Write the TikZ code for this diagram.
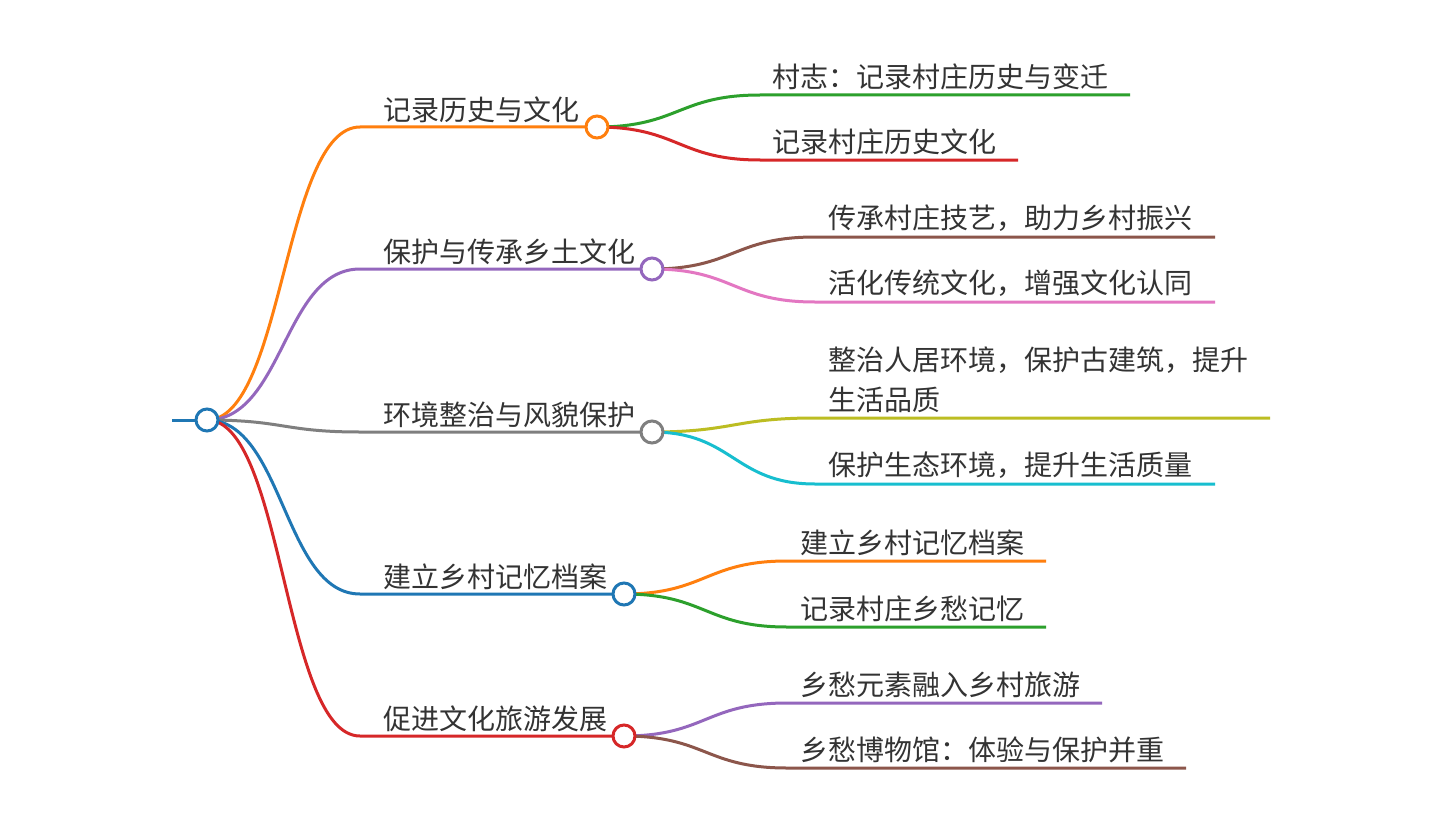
\documentclass[tikz,border=0pt]{standalone}
\usepackage{fontspec}
\newfontfamily\cjk{Noto Sans CJK SC}
\definecolor{cblue}{HTML}{1F77B4}
\definecolor{corange}{HTML}{FF7F0E}
\definecolor{cgreen}{HTML}{2CA02C}
\definecolor{cred}{HTML}{D62728}
\definecolor{cpurple}{HTML}{9467BD}
\definecolor{cbrown}{HTML}{8C564B}
\definecolor{cpink}{HTML}{E377C2}
\definecolor{cgray}{HTML}{7F7F7F}
\definecolor{colive}{HTML}{BCBD22}
\definecolor{ccyan}{HTML}{17BECF}
\definecolor{txt}{HTML}{333333}
\begin{document}
\begin{tikzpicture}[x=1pt,y=-1pt,
  link/.style={line width=3pt},
  bend1/.style={out=0,in=180,out distance=76.5pt,in distance=76.5pt},
  bend2/.style={out=0,in=180,out distance=81.5pt,in distance=81.5pt},
  dot/.style={circle,draw,fill=white,line width=3pt,minimum size=22pt,inner sep=0pt},
  lbl/.style={anchor=west,inner sep=0pt,text=txt,align=left,font=\cjk\fontsize{28}{40}\selectfont}]
\useasboundingbox (0,0) rectangle (1440,832);
\fill[white] (0,0) rectangle (1440,832);

% root
\coordinate (n0) at (207,420);
\coordinate (lt) at (172,420);
\draw[link,cblue] (lt) -- (n0);

% level-1 points
\coordinate (a1) at (360,127);  \coordinate (n1) at (597,127);
\coordinate (a2) at (360,269);  \coordinate (n2) at (652,269);
\coordinate (a3) at (360,432);  \coordinate (n3) at (652,432);
\coordinate (a4) at (360,594);  \coordinate (n4) at (624,594);
\coordinate (a5) at (360,736);  \coordinate (n5) at (624,736);

\draw[link,corange] (n0) to[bend1] (a1) -- (n1);
\draw[link,cpurple] (n0) to[bend1] (a2) -- (n2);
\draw[link,cgray]   (n0) to[bend1] (a3) -- (n3);
\draw[link,cblue]   (n0) to[bend1] (a4) -- (n4);
\draw[link,cred]    (n0) to[bend1] (a5) -- (n5);

% level-2 points
\coordinate (b11) at (760,95);  \coordinate (e11) at (1130,95);
\coordinate (b12) at (760,160); \coordinate (e12) at (1018,160);
\coordinate (b21) at (815,237); \coordinate (e21) at (1215,237);
\coordinate (b22) at (815,302); \coordinate (e22) at (1215,302);
\coordinate (b31) at (815,418); \coordinate (e31) at (1270,418);
\coordinate (b32) at (815,484); \coordinate (e32) at (1215,484);
\coordinate (b41) at (787,561); \coordinate (e41) at (1046,561);
\coordinate (b42) at (787,627); \coordinate (e42) at (1046,627);
\coordinate (b51) at (787,703); \coordinate (e51) at (1102,703);
\coordinate (b52) at (787,768); \coordinate (e52) at (1186,768);

\draw[link,cgreen]  (n1) to[bend2] (b11) -- (e11);
\draw[link,cred]    (n1) to[bend2] (b12) -- (e12);
\draw[link,cbrown]  (n2) to[bend2] (b21) -- (e21);
\draw[link,cpink]   (n2) to[bend2] (b22) -- (e22);
\draw[link,colive]  (n3) to[bend2] (b31) -- (e31);
\draw[link,ccyan]   (n3) to[bend2] (b32) -- (e32);
\draw[link,corange] (n4) to[bend2] (b41) -- (e41);
\draw[link,cgreen]  (n4) to[bend2] (b42) -- (e42);
\draw[link,cpurple] (n5) to[bend2] (b51) -- (e51);
\draw[link,cbrown]  (n5) to[bend2] (b52) -- (e52);

% circles
\node[dot,draw=cblue]   (d0) at (n0) {};
\node[dot,draw=corange] (d1) at (n1) {};
\node[dot,draw=cpurple] (d2) at (n2) {};
\node[dot,draw=cgray]   (d3) at (n3) {};
\node[dot,draw=cblue]   (d4) at (n4) {};
\node[dot,draw=cred]    (d5) at (n5) {};

% level-1 labels
\node[lbl] (t1) at (383,109.5) {记录历史与文化};
\node[lbl] (t2) at (383,251.5) {保护与传承乡土文化};
\node[lbl] (t3) at (383,414.5) {环境整治与风貌保护};
\node[lbl] (t4) at (383,576.5) {建立乡村记忆档案};
\node[lbl] (t5) at (383,718.5) {促进文化旅游发展};

% level-2 labels
\node[lbl] (t11) at (772,76.5)  {村志：记录村庄历史与变迁};
\node[lbl] (t12) at (772,141.5) {记录村庄历史文化};
\node[lbl] (t21) at (828,218.5) {传承村庄技艺，助力乡村振兴};
\node[lbl] (t22) at (828,283.5) {活化传统文化，增强文化认同};
\node[lbl] (t31) at (828,380)   {整治人居环境，保护古建筑，提升\\生活品质};
\node[lbl] (t32) at (828,465.5) {保护生态环境，提升生活质量};
\node[lbl] (t41) at (800,542.5) {建立乡村记忆档案};
\node[lbl] (t42) at (800,608.5) {记录村庄乡愁记忆};
\node[lbl] (t51) at (800,684.5) {乡愁元素融入乡村旅游};
\node[lbl] (t52) at (800,749.5) {乡愁博物馆：体验与保护并重};
\end{tikzpicture}
\end{document}
